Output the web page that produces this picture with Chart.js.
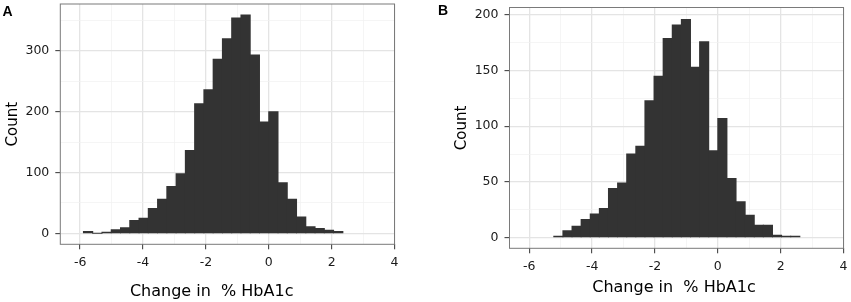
<!DOCTYPE html>
<html><head><meta charset="utf-8">
<script src="https://cdn.jsdelivr.net/npm/chart.js@4.4.1/dist/chart.umd.min.js"></script>
<style>
html,body{margin:0;padding:0;background:#fff;}
#wrap{position:relative;width:851px;height:302px;overflow:hidden;background:#fff;}
canvas{position:absolute;top:0;}
</style></head><body>
<div id="wrap">
<canvas id="cA" width="425" height="302" style="left:0px"></canvas>
<canvas id="cB" width="426" height="302" style="left:425px"></canvas>
</div>
<script>
// ---- data ----
const panelLetters = ['A', 'B'];
const xTitle = 'Change in  % HbA1c';
const yTitle = 'Count';
const xTicks = [-6, -4, -2, 0, 2, 4];

// Panel A histogram: left edge of first bin, bin width, counts
const binLeftA = -5.894;
const binWidthA = 0.2947;
const countsA = [3, 0, 2, 6, 9, 21, 25, 41, 56, 77, 98, 136, 213, 236, 286, 320, 354, 359, 293, 183, 200, 83, 56, 27, 11, 8, 5, 3];
const yTicksA = [0, 100, 200, 300];

// Panel B histogram
const binLeftB = -5.22;
const binWidthB = 0.29;
const countsB = [1, 6, 10, 16, 21, 26, 44, 49, 75, 82, 123, 145, 179, 191, 196, 153, 176, 78, 107, 53, 32, 20, 11, 11, 2, 1, 1];
const yTicksB = [0, 50, 100, 150, 200];

// ---- helpers ----
Chart.defaults.font.family = 'DejaVu Sans';

function withMinor(major, lo, hi) {
  const step = major[1] - major[0];
  const out = [];
  for (let i = 0; i < major.length; i++) {
    out.push({v: major[i], major: true});
    const m = major[i] + step / 2;
    if (m <= hi) out.push({v: m, major: false});
  }
  const first = major[0] - step / 2;
  if (first >= lo) out.unshift({v: first, major: false});
  return out;
}

const panelDeco = {
  id: 'panelDeco',
  afterDatasetsDraw(chart, args, o) {
    const {ctx, chartArea: a} = chart;
    ctx.save();
    ctx.strokeStyle = '#7a7a7a';
    ctx.lineWidth = 1;
    ctx.strokeRect(a.left, a.top, a.right - a.left, a.bottom - a.top);
    ctx.restore();
  },
  afterDraw(chart, args, o) {
    const ctx = chart.ctx;
    ctx.save();
    ctx.fillStyle = '#000';
    ctx.textBaseline = 'alphabetic';
    ctx.textAlign = 'left';
    ctx.font = 'bold 14px "Liberation Sans", Arial, sans-serif';
    ctx.fillText(o.letter, o.letterX, o.letterY);
    ctx.font = '16px "DejaVu Sans"';
    ctx.textAlign = 'center';
    ctx.textBaseline = 'middle';
    ctx.fillText(o.xTitle, o.xTitleX, o.xTitleY);
    ctx.restore();
  }
};

function makeChart(id, p) {
  const xt = withMinor(xTicks, p.xmin, p.xmax);
  const yt = withMinor(p.yTicks, p.ymin, p.ymax);
  const xMajor = new Set(xTicks);
  const yMajor = new Set(p.yTicks);
  const counts = p.counts;
  const data = counts.map((c, i) => ({x: p.binLeft + (i + 0.5) * p.binWidth, y: c}));
  const gridColor = (set) => (c) => (c.tick && set.has(c.tick.value)) ? '#e4e4e4' : '#f1f1f1';
  const gridWidth = (set) => (c) => (c.tick && set.has(c.tick.value)) ? 1.3 : 0.7;
  const tickCol = (set) => (c) => (c.tick && set.has(c.tick.value)) ? '#333333' : 'rgba(0,0,0,0)';
  return new Chart(document.getElementById(id), {
    type: 'bar',
    data: {
      datasets: [{
        data: data,
        backgroundColor: '#333333',
        borderWidth: 0,
        inflateAmount: 0.5,
        barPercentage: 1,
        categoryPercentage: 1
      }]
    },
    options: {
      responsive: false,
      animation: false,
      devicePixelRatio: 1,
      events: [],
      layout: {padding: {left: 0, top: p.top, right: p.canvasW - p.right, bottom: 0}},
      plugins: {
        legend: {display: false},
        tooltip: {enabled: false},
        panelDeco: {letter: p.letter, letterX: p.letterX, letterY: p.letterY,
                    xTitle: xTitle, xTitleX: p.xTitleX, xTitleY: p.xTitleY}
      },
      scales: {
        x: {
          type: 'linear', min: p.xmin, max: p.xmax, bounds: 'data', offset: false,
          afterBuildTicks: (s) => { s.ticks = xt.map(t => ({value: t.v})); },
          afterFit: (s) => { s.height = 302 - p.bottom; s.paddingLeft = 0; s.paddingRight = 0; },
          border: {display: false},
          grid: {offset: false, color: gridColor(xMajor), lineWidth: gridWidth(xMajor),
                 tickColor: tickCol(xMajor), tickLength: 5, tickWidth: 1, drawTicks: true},
          ticks: {autoSkip: false, maxRotation: 0, minRotation: 0, padding: 6, color: '#1a1a1a',
                  font: {size: 12.5},
                  callback: (v) => xMajor.has(v) ? String(v) : ''}
        },
        y: {
          type: 'linear', min: p.ymin, max: p.ymax, bounds: 'data',
          afterBuildTicks: (s) => { s.ticks = yt.map(t => ({value: t.v})); },
          afterFit: (s) => { s.width = p.left; s.paddingTop = 0; s.paddingBottom = 0; },
          border: {display: false},
          grid: {color: gridColor(yMajor), lineWidth: gridWidth(yMajor),
                 tickColor: tickCol(yMajor), tickLength: 5, tickWidth: 1, drawTicks: true},
          ticks: {autoSkip: false, padding: 6, color: '#1a1a1a', font: {size: 12.5},
                  callback: (v) => yMajor.has(v) ? String(v) : ''},
          title: {display: true, text: yTitle, color: '#000', font: {size: 15},
                  padding: {top: p.yTitlePad, bottom: 0}}
        }
      }
    },
    plugins: [panelDeco]
  });
}

makeChart('cA', {
  letter: panelLetters[0], letterX: 2.5, letterY: 15.5,
  counts: countsA, binLeft: binLeftA, binWidth: binWidthA, yTicks: yTicksA,
  xmin: -6.63, xmax: 4.0, ymin: -18, ymax: 377,
  canvasW: 425, left: 60.3, right: 394.5, top: 4, bottom: 244.3,
  yTitlePad: 4.5, xTitleX: 211.7, xTitleY: 291.7
});
makeChart('cB', {
  letter: panelLetters[1], letterX: 13, letterY: 14.5,
  counts: countsB, binLeft: binLeftB, binWidth: binWidthB, yTicks: yTicksB,
  xmin: -6.63, xmax: 4.0, ymin: -9.85, ymax: 206.85,
  canvasW: 426, left: 84.5, right: 418.5, top: 7.5, bottom: 248.3,
  yTitlePad: 28.5, xTitleX: 249, xTitleY: 288.3
});
</script>
</body></html>
